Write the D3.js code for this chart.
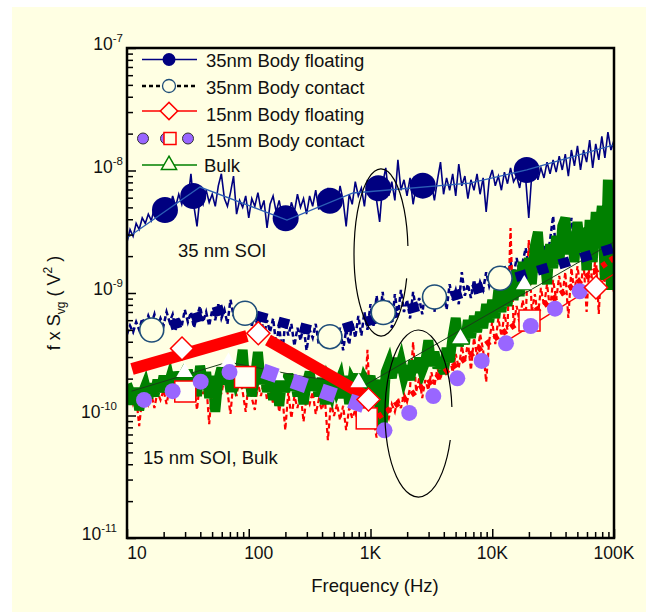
<!DOCTYPE html>
<html><head><meta charset="utf-8">
<script src="https://cdn.jsdelivr.net/npm/d3@7"></script>
<style>
html,body{margin:0;padding:0;background:#fff;}
svg{display:block;font-family:"Liberation Sans",Arial,sans-serif;}
</style></head>
<body><svg id="c" width="646" height="612"></svg>
<script>
// ---------------- DATA (values in nV^2 = 1e-9 V^2, frequency in Hz) ----------------
const UNIT = 1e-9;
const decades = [10, 100, 1000, 10000];
const mant40 = [1.000,1.059,1.122,1.189,1.259,1.334,1.413,1.496,1.585,1.679,1.778,1.884,1.995,2.113,2.239,2.371,2.512,2.661,2.818,2.985,
                3.162,3.350,3.548,3.758,3.981,4.217,4.467,4.732,5.012,5.309,5.623,5.957,6.310,6.683,7.079,7.499,7.943,8.414,8.913,9.441];
const freq = decades.flatMap(d => mant40.map(m => m * d)).concat([100000]);

// measured noise traces (one value per frequency point)
const noise35F = [2.6,3.3,2.9,3.7,3.3,4.1,3.7,4.4,3.9,5.0, 4.2,5.3,4.6,5.7,4.8,6.2,5.1,6.4,5.3,6.9,
  5.7,9.4,5.1,3.5,6.2,5.3,6.9,5.5,6.4,5.1, 7.5,9.4,5.9,5.1,6.6,9.0,4.4,5.7,5.0,6.2,
  4.1,5.9,5.1,6.6,4.8,5.7,3.4,5.3,6.2,4.6, 5.7,4.2,5.1,3.9,5.5,4.6,6.4,5.0,5.9,4.4,
  6.2,5.1,6.9,4.8,5.9,5.1,7.2,5.5,6.6,5.0, 7.5,5.7,3.5,6.4,5.3,8.1,6.2,7.2,5.1,8.4,
  6.2,7.5,5.7,3.8,7.8,10.5,6.2,8.1,5.7,12.2, 6.9,8.4,6.2,8.7,5.3,7.5,8.7,6.4,9.0,6.2,
  7.8,5.7,8.4,11.7,6.4,8.7,6.9,9.4,6.2,11.3, 7.5,9.0,5.9,8.4,6.9,9.4,6.4,8.7,4.6,8.4,
  10.1,7.5,9.0,6.9,9.7,7.8,10.5,8.1,9.0,7.2, 10.1,8.4,4.1,9.4,11.3,8.4,10.5,8.7,11.7,9.4,
  12.2,9.7,13.1,10.1,13.6,9.0,14.7,10.9,15.9,10.1, 14.7,11.7,17.7,10.5,16.5,12.2,19,12.7,20.6,14.7, 17.7];
const noise35C = [0.46,0.54,0.48,0.58,0.50,0.62,0.54,0.65,0.56,0.67, 0.52,0.62,0.54,0.70,0.58,0.67,0.50,0.62,0.54,0.73,
  0.58,0.70,0.52,0.65,0.78,0.58,0.70,0.54,0.73,0.60, 0.81,0.62,0.73,0.56,0.88,0.65,0.78,0.58,0.73,0.62,
  0.78,0.54,0.70,0.50,0.65,0.45,0.60,0.48,0.62,0.38, 0.54,0.32,0.58,0.45,0.56,0.37,0.52,0.41,0.54,0.34,
  0.50,0.43,0.56,0.38,0.50,0.41,0.54,0.36,0.48,0.40, 0.52,0.34,0.50,0.38,0.58,0.43,0.65,0.45,0.70,0.50,
  0.81,0.54,0.95,0.62,1.02,0.58,0.88,0.52,0.98,0.65, 1.06,0.70,0.88,0.62,1.02,0.73,0.91,0.67,1.06,0.78,
  0.95,0.70,1.10,0.81,1.02,0.73,1.18,0.88,1.06,0.81, 1.48,0.95,1.18,0.91,1.28,0.98,1.23,1.06,1.48,1.14,
  1.38,1.10,1.54,1.23,1.66,1.28,1.79,1.38,1.93,1.48, 1.79,2.33,1.60,2.0,1.72,2.16,1.79,2.42,1.93,2.71,
  4.25,2.08,2.51,2.0,2.71,2.16,4.1,2.33,2.92,2.24, 3.15,2.42,3.39,2.51,3.15,2.71,3.52,2.81,3.66,2.92, 3.27];
const noiseBulk = [0.181,0.156,0.124,0.168,0.111,0.150,0.174,0.139,0.181,0.144, 0.195,0.156,0.21,0.161,0.195,0.150,0.226,0.181,0.202,0.156,
  0.235,0.174,0.218,0.144,0.254,0.188,0.226,0.139,0.21,0.107, 0.195,0.244,0.181,0.235,0.156,0.254,0.195,0.226,0.343,0.168,
  0.218,0.144,0.202,0.33,0.181,0.235,0.156,0.202,0.134,0.21, 0.12,0.195,0.156,0.218,0.161,0.202,0.144,0.195,0.124,0.181,
  0.226,0.161,0.195,0.144,0.202,0.124,0.181,0.156,0.21,0.168, 0.195,0.139,0.21,0.124,0.188,0.168,0.218,0.156,0.195,0.174,
  0.21,0.150,0.195,0.111,0.085,0.226,0.263,0.202,0.295,0.226, 0.273,0.21,0.254,0.195,0.28,0.226,0.295,0.235,0.273,0.41,
  0.254,0.33,0.244,0.295,0.218,0.356,0.273,0.446,0.625,0.369, 0.50,0.383,0.60,0.43,0.649,0.48,0.70,0.518,0.813,0.58,
  0.877,0.625,1.06,0.70,1.18,0.783,1.38,0.877,1.54,0.945, 1.79,1.06,1.93,1.18,2.42,3.15,1.48,2.24,1.18,2.51,
  1.60,2.92,1.72,3.52,4.1,2.08,3.15,1.79,3.80,2.33, 3.39,1.54,3.94,1.79,4.58,2.92,5.13,1.28,8.4,1.06, 6.2];
const noise15 = [0.139,0.156,0.124,0.144,0.082,0.139,0.156,0.124,0.150,0.115, 0.156,0.134,0.161,0.124,0.168,0.139,0.174,0.129,0.181,0.144,
  0.188,0.134,0.181,0.111,0.195,0.150,0.188,0.085,0.174,0.139, 0.195,0.150,0.202,0.156,0.103,0.195,0.144,0.21,0.156,0.107,
  0.195,0.139,0.111,0.181,0.144,0.195,0.134,0.174,0.124,0.168, 0.107,0.150,0.076,0.156,0.095,0.144,0.115,0.156,0.089,0.144,
  0.124,0.156,0.103,0.134,0.111,0.139,0.063,0.129,0.099,0.124, 0.092,0.120,0.076,0.115,0.095,0.111,0.082,0.107,0.124,0.343,
  0.103,0.092,0.066,0.099,0.085,0.111,0.095,0.124,0.107,0.139, 0.115,0.150,0.129,0.168,0.398,0.156,0.202,0.139,0.195,0.161,
  0.226,0.174,0.244,0.195,0.273,0.21,0.295,0.226,0.318,0.244, 0.369,0.273,0.398,0.235,0.43,0.306,0.463,0.343,0.188,0.41,
  0.58,0.383,0.625,0.446,0.674,0.50,3.39,0.538,0.783,0.58, 0.877,0.625,2.71,0.70,0.98,0.649,1.10,0.783,1.18,0.73,
  1.28,0.877,1.38,0.945,1.48,0.625,1.60,0.98,1.66,1.06, 1.79,0.70,1.93,1.14,2.08,0.674,2.16,1.23,2.33,1.33, 1.02];

// 35nm body floating: markers and fit
const m35F_f = [20.5, 35.0, 201, 464, 1159, 2686, 19190];
const m35F_v = [4.76, 6.19, 4.07, 5.67, 7.16, 7.52, 10.1];
const fit35F_f = [10, 39.8, 206, 718, 6520, 19190, 100000];
const fit35F_v = [2.81, 7.33, 3.94, 6.55, 7.9, 10.1, 16.2];
// 35nm body contact: markers and fit
const m35C_f = [15.96, 93.2, 464, 1273, 3357, 11590];
const m35C_v = [0.499, 0.683, 0.44, 0.693, 0.927, 1.318];
const fit35C_f = [22.6, 67.5, 422, 100000];
const fit35C_v = [0.543, 0.754, 0.463, 2.33];
// 15nm body floating: markers and fits
const m15F_f = [28.3, 119.8, 963, 71100];
const m15F_v = [0.352, 0.469, 0.135, 1.109];
const fit15F_lo_f = [11.0, 96.7];
const fit15F_lo_v = [0.24, 0.446];
const fit15F_mid_f = [144, 918];
const fit15F_mid_v = [0.413, 0.144];
const fit15F_hi_f = [12720, 100000];
const fit15F_hi_v = [0.398, 1.43];
// 15nm body contact: red squares, purple dots, purple squares, dotted fit
const m15C_f = [30.1, 93.2, 931, 20230];
const m15C_v = [0.157, 0.206, 0.0947, 0.596];
const dots15C_f = [13.8, 23.7, 40.3, 69.5, 1303, 2080, 3280, 5165, 8190, 12970, 20700, 32770, 52270];
const dots15C_v = [0.134, 0.158, 0.189, 0.226, 0.0757, 0.105, 0.144, 0.201, 0.279, 0.388, 0.538, 0.745, 1.034];
const sq15C_f = [149.5, 260, 450, 770];
const sq15C_v = [0.221, 0.183, 0.152, 0.126];
const fit15C_f = [1152, 100000];
const fit15C_v = [0.0972, 1.93];
// Bulk: markers and fit
const mBulk_f = [29.7, 68.2, 169, 800, 5480, 18320];
const mBulk_v = [0.226, 0.273, 0.212, 0.186, 0.425, 1.173];
const fitBulk_f = [10.9, 67.5, 264, 901, 100000];
const fitBulk_v = [0.158, 0.273, 0.21, 0.177, 2.61];

// annotation ovals (centre, right edge frequency, top value, gap angles in degrees)
const ovalCenterF = [1220, 2477];
const ovalCenterV = [2.14, 0.1038];
const ovalEdgeF = [2032, 4670];
const ovalTopV = [10.3, 0.499];
const ovalGapFrom = [-4.5, -4.5];
const ovalGapTo = [18, 18.5];

// axis ticks
const xTickValues = [10, 100, 1000, 10000, 100000];
const xTickLabels = ["10", "100", "1K", "10K", "100K"];
const yTickValues = [1e-11, 1e-10, 1e-9, 1e-8, 1e-7];
const yTickExps = ["-11", "-10", "-9", "-8", "-7"];
const legendNames = ["35nm Body floating", "35nm Body contact", "15nm Body floating", "15nm Body contact", "Bulk"];

// ---------------- DRAWING ----------------
const BG = "#ffffe3";
const NAVY = "#000080", RED = "#ff0000", GREEN = "#008000", PURPLE = "#9966ff", TEAL = "#1f4e79";
const plot = {l: 127, r: 614, t: 48, b: 538};
const x = d3.scaleLog().domain([10, 1e5]).range([plot.l, plot.r]);
const y = d3.scaleLog().domain([1e-11, 1e-7]).range([plot.b, plot.t]);
const pts = (fs, vs) => fs.map((f, i) => [x(f), y(vs[i] * UNIT)]);
const line = d3.line();

const svg = d3.select("#c");
svg.append("rect").attr("x", 12).attr("y", 7).attr("width", 634).attr("height", 605).attr("fill", BG);
svg.append("defs").append("clipPath").attr("id", "clip").append("rect")
  .attr("x", plot.l).attr("y", plot.t).attr("width", plot.r - plot.l).attr("height", plot.b - plot.t);
const g = svg.append("g").attr("clip-path", "url(#clip)");

function drawLine(fs, vs, attrs) {
  const p = g.append("path").attr("d", line(pts(fs, vs))).attr("fill", "none");
  for (const k in attrs) p.attr(k, attrs[k]);
  return p;
}

// noisy measurements
drawLine(freq, noise35C, {stroke: NAVY, "stroke-width": 2.5, "stroke-dasharray": "5,3"});
drawLine(freq, noise15, {stroke: RED, "stroke-width": 2.2, "stroke-dasharray": "5,3"});
drawLine(freq, noiseBulk, {stroke: GREEN, "stroke-width": 10, "stroke-linejoin": "miter"});
drawLine(freq, noise35F, {stroke: NAVY, "stroke-width": 1.6});

// 35F markers then fit line over them
g.selectAll(null).data(d3.zip(m35F_f, m35F_v)).join("circle")
  .attr("cx", d => x(d[0])).attr("cy", d => y(d[1] * UNIT)).attr("r", 13).attr("fill", NAVY);
drawLine(fit35F_f, fit35F_v, {stroke: "#2d5fb5", "stroke-width": 1.3});

// fits
drawLine(fitBulk_f, fitBulk_v, {stroke: "#1a3d1a", "stroke-width": 1});
drawLine(fit35C_f, fit35C_v, {stroke: NAVY, "stroke-width": 10, "stroke-dasharray": "11,11.5"});
drawLine(fit15F_lo_f, fit15F_lo_v, {stroke: RED, "stroke-width": 12});
drawLine(fit15F_mid_f, fit15F_mid_v, {stroke: RED, "stroke-width": 12});
drawLine(fit15C_f, fit15C_v, {stroke: RED, "stroke-width": 6, "stroke-dasharray": "5,5"});
drawLine(fit15F_hi_f, fit15F_hi_v, {stroke: RED, "stroke-width": 1.3});

// 35C open circles
g.selectAll(null).data(d3.zip(m35C_f, m35C_v)).join("circle")
  .attr("cx", d => x(d[0])).attr("cy", d => y(d[1] * UNIT)).attr("r", 12)
  .attr("fill", BG).attr("stroke", TEAL).attr("stroke-width", 1.6);
// Bulk triangles
const tri = d3.symbol().type(d3.symbolTriangle).size(118);
g.selectAll(null).data(d3.zip(mBulk_f, mBulk_v)).join("path")
  .attr("d", tri).attr("transform", d => `translate(${x(d[0])},${y(d[1] * UNIT)})`).attr("fill", "#ffffff");
// 15C red squares
g.selectAll(null).data(d3.zip(m15C_f, m15C_v)).join("rect")
  .attr("x", d => x(d[0]) - 10.5).attr("y", d => y(d[1] * UNIT) - 10.5).attr("width", 21).attr("height", 21)
  .attr("fill", "#fffff4").attr("stroke", RED).attr("stroke-width", 1.5);
// 15C purple squares (rotated along their trend)
const sqP = pts(sq15C_f, sq15C_v);
const sqAng = Math.atan2(sqP[sqP.length - 1][1] - sqP[0][1], sqP[sqP.length - 1][0] - sqP[0][0]) * 180 / Math.PI;
g.selectAll(null).data(sqP).join("rect")
  .attr("x", -7.5).attr("y", -7.5).attr("width", 15).attr("height", 15)
  .attr("transform", d => `translate(${d[0]},${d[1]}) rotate(${sqAng})`).attr("fill", PURPLE);
// 15C purple dots
g.selectAll(null).data(d3.zip(dots15C_f, dots15C_v)).join("circle")
  .attr("cx", d => x(d[0])).attr("cy", d => y(d[1] * UNIT)).attr("r", 8).attr("fill", PURPLE);
// 15F diamonds
const dia = d3.symbol().type(d3.symbolSquare).size(265);
g.selectAll(null).data(d3.zip(m15F_f, m15F_v)).join("path")
  .attr("d", dia).attr("transform", d => `translate(${x(d[0])},${y(d[1] * UNIT)}) rotate(45)`)
  .attr("fill", "#ffffff").attr("stroke", RED).attr("stroke-width", 1.5);

// ovals
function ellipseArc(cx, cy, rx, ry, a0, a1) {
  const r = Math.PI / 180;
  const sx = cx + rx * Math.cos(a0 * r), sy = cy + ry * Math.sin(a0 * r);
  const ex = cx + rx * Math.cos(a1 * r), ey = cy + ry * Math.sin(a1 * r);
  return `M${sx},${sy}A${rx},${ry} 0 ${(a1 - a0) > 180 ? 1 : 0} 1 ${ex},${ey}`;
}
ovalCenterF.forEach((cf, i) => {
  const cx = x(cf), cy = y(ovalCenterV[i] * UNIT);
  const rx = x(ovalEdgeF[i]) - cx, ry = cy - y(ovalTopV[i] * UNIT);
  svg.append("path").attr("d", ellipseArc(cx, cy, rx, ry, ovalGapTo[i], 360 + ovalGapFrom[i]))
    .attr("fill", "none").attr("stroke", "#000").attr("stroke-width", 1.2);
});

// axes ticks (inside)
const xMinor = x.ticks().filter(v => !xTickValues.includes(v));
const yMinor = y.ticks().filter(v => !yTickValues.some(t => Math.abs(t - v) / t < 1e-6));
function tickAxis(axis) {
  return gg => { gg.call(axis); gg.select(".domain").remove(); gg.selectAll("line").attr("stroke", "#000").attr("stroke-width", 1.5); };
}
svg.append("g").attr("transform", `translate(0,${plot.b})`)
  .call(tickAxis(d3.axisBottom(x).tickValues(xTickValues).tickSize(-9).tickSizeOuter(0).tickFormat("")));
svg.append("g").attr("transform", `translate(0,${plot.b})`)
  .call(tickAxis(d3.axisBottom(x).tickValues(xMinor).tickSize(-6).tickSizeOuter(0).tickFormat("")));
svg.append("g").attr("transform", `translate(${plot.l},0)`)
  .call(tickAxis(d3.axisLeft(y).tickValues(yTickValues).tickSize(-9).tickSizeOuter(0).tickFormat("")));
svg.append("g").attr("transform", `translate(${plot.l},0)`)
  .call(tickAxis(d3.axisLeft(y).tickValues(yMinor).tickSize(-6).tickSizeOuter(0).tickFormat("")));

// frame
svg.append("rect").attr("x", plot.l).attr("y", plot.t).attr("width", plot.r - plot.l).attr("height", plot.b - plot.t)
  .attr("fill", "none").attr("stroke", "#000").attr("stroke-width", 2.5);

// tick labels
xTickValues.forEach((v, i) => {
  const lab = xTickLabels[i];
  svg.append("text").attr("x", x(v) + (lab.endsWith("K") ? 0 : 10)).attr("y", 559)
    .attr("text-anchor", "middle").attr("font-size", 17.5).attr("fill", "#111").text(lab);
});
yTickValues.forEach((v, i) => {
  const e = yTickExps[i];
  const t = svg.append("text").attr("x", e.length > 2 ? 117 : 123).attr("y", y(v) + 2)
    .attr("text-anchor", "end").attr("font-size", 17.5).attr("fill", "#111");
  t.append("tspan").text("10");
  t.append("tspan").attr("font-size", 11.5).attr("dy", -8).text(e);
});

// axis titles
svg.append("text").attr("x", 375).attr("y", 592).attr("text-anchor", "middle")
  .attr("font-size", 18.5).attr("fill", "#111").text("Frequency (Hz)");
const yt = svg.append("text").attr("transform", "translate(59.5,303) rotate(-90)")
  .attr("text-anchor", "middle").attr("font-size", 18).attr("fill", "#111");
yt.append("tspan").text("f x S");
yt.append("tspan").attr("font-size", 12).attr("dy", 5).text("vg");
yt.append("tspan").attr("dy", -5).text(" ( V");
yt.append("tspan").attr("font-size", 12).attr("dy", -8).text("2");
yt.append("tspan").attr("dy", 8).text(" )");

// in-plot labels
svg.append("text").attr("x", 178).attr("y", 257).attr("font-size", 18.5).attr("fill", "#111").text("35 nm SOI");
svg.append("text").attr("x", 143).attr("y", 464).attr("font-size", 18.5).attr("fill", "#111").text("15 nm SOI, Bulk");

// legend
const lx0 = 142, lx1 = 197, lmx = 169, ltx = 206;
const rowY = [59.5, 86, 111, 138.5, 165];
const txtY = [67, 93.5, 120.5, 146.5, 171.5];
const lg = svg.append("g");
legendNames.forEach((name, i) => {
  const ry = rowY[i];
  if (i === 0) {
    lg.append("line").attr("x1", lx0).attr("x2", lx1).attr("y1", ry).attr("y2", ry).attr("stroke", NAVY).attr("stroke-width", 1.5);
    lg.append("circle").attr("cx", lmx).attr("cy", ry).attr("r", 6.5).attr("fill", NAVY);
  } else if (i === 1) {
    lg.append("line").attr("x1", lx0).attr("x2", lx1).attr("y1", ry).attr("y2", ry).attr("stroke", "#000")
      .attr("stroke-width", 2.5).attr("stroke-dasharray", "4,3");
    lg.append("circle").attr("cx", lmx).attr("cy", ry).attr("r", 6.5).attr("fill", BG).attr("stroke", TEAL).attr("stroke-width", 1.3);
  } else if (i === 2) {
    lg.append("line").attr("x1", lx0).attr("x2", lx1).attr("y1", ry).attr("y2", ry).attr("stroke", RED).attr("stroke-width", 1.5);
    lg.append("path").attr("d", d3.symbol().type(d3.symbolSquare).size(150)())
      .attr("transform", `translate(${lmx},${ry}) rotate(45)`).attr("fill", BG).attr("stroke", RED).attr("stroke-width", 1.5);
  } else if (i === 3) {
    [143, 166, 188].forEach(cx => lg.append("circle").attr("cx", cx).attr("cy", ry).attr("r", 5.5)
      .attr("fill", PURPLE).attr("stroke", "#333").attr("stroke-width", 1));
    lg.append("rect").attr("x", lmx + 1 - 6).attr("y", ry - 6).attr("width", 12).attr("height", 12)
      .attr("fill", BG).attr("stroke", RED).attr("stroke-width", 1.5);
  } else {
    lg.append("line").attr("x1", lx0).attr("x2", lx1).attr("y1", ry).attr("y2", ry).attr("stroke", GREEN).attr("stroke-width", 1.5);
    lg.append("path").attr("d", d3.symbol().type(d3.symbolTriangle).size(100)())
      .attr("transform", `translate(${lmx},${ry})`).attr("fill", BG).attr("stroke", GREEN).attr("stroke-width", 1.5);
  }
  lg.append("text").attr("x", i === 4 ? 204 : ltx).attr("y", txtY[i]).attr("font-size", 18.5).attr("fill", "#111").text(name);
});
</script></body></html>
